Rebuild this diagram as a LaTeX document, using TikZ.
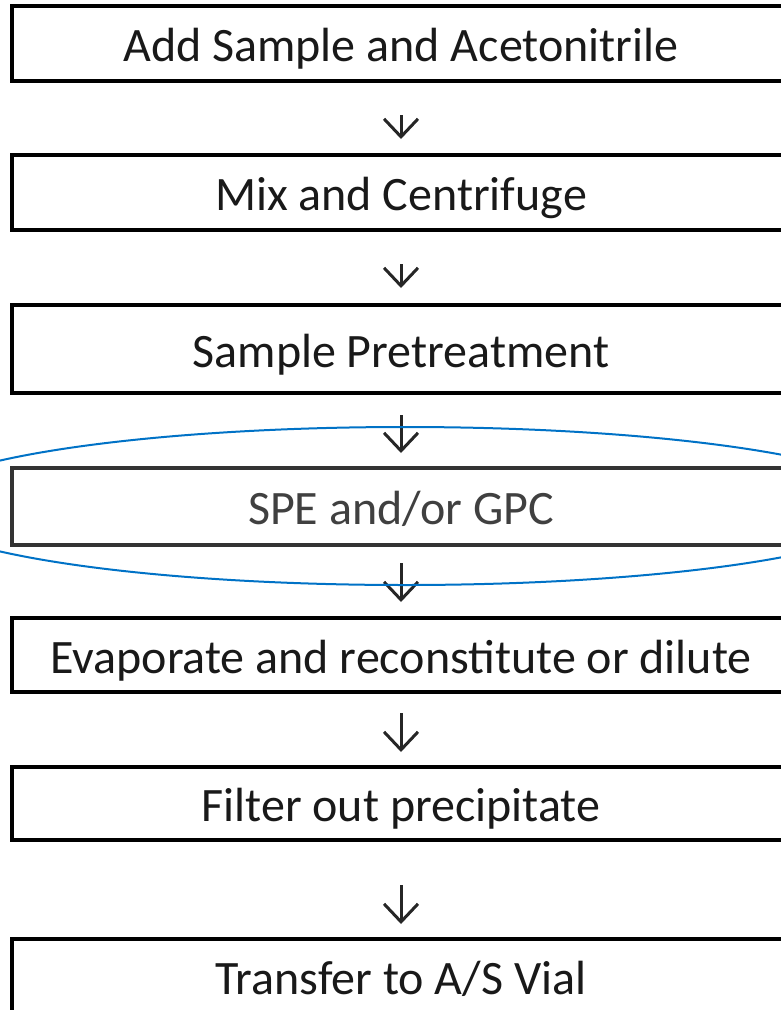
\documentclass[tikz,border=0pt]{standalone}
\usepackage{fontspec}
\setmainfont{Carlito}
\usetikzlibrary{arrows.meta,shapes.geometric}
\definecolor{ellblue}{RGB}{0,114,198}
\definecolor{txt}{RGB}{25,25,25}
\definecolor{fadetxt}{RGB}{64,64,64}
\tikzset{
  stepbox/.style={draw=black, line width=4pt, minimum width=778pt, inner sep=0pt,
    text=txt, font=\fontsize{48}{58}\selectfont, anchor=center,
    text height=36pt, text depth=0pt},
  flowarrow/.style={draw=black!85, line width=3pt,
    -{Straight Barb[length=18pt,width=34pt,line width=3pt]}},
}
\begin{document}
\begin{tikzpicture}[x=1pt,y=1pt]
\useasboundingbox (0,0) rectangle (781,-1010);
\begin{scope}
\clip (0,0) rectangle (781,-1010);
\node[stepbox, minimum height=75pt] (b1) at (401,-43.5) {Add Sample and Acetonitrile};
\node[stepbox, minimum height=75pt] (b2) at (401,-192.5) {Mix and Centrifuge};
\node[stepbox, minimum height=88pt] (b3) at (401,-349) {Sample Pretreatment};
\node[stepbox, minimum height=77pt, draw=black!80, text=fadetxt] (b4) at (401,-506.5) {SPE and/or GPC};
\node[stepbox, minimum height=74pt] (b5) at (401,-655) {Evaporate and reconstitute or dilute};
\node[stepbox, minimum height=73pt] (b6) at (401,-803.5) {Filter out precipitate};
\node[stepbox, minimum height=74pt] (b7) at (401,-976) {Transfer to A/S Vial};
\draw[flowarrow, shorten <=32pt, shorten >=14pt] (b1.south) -- (b2.north);
\draw[flowarrow, shorten <=32pt, shorten >=15pt] (b2.south) -- (b3.north);
\draw[flowarrow, shorten <=20pt, shorten >=13pt] (b3.south) -- (b4.north);
\draw[flowarrow, shorten <=16pt, shorten >=14pt] (b4.south) -- (b5.north);
\draw[flowarrow, shorten <=19pt, shorten >=13pt] (b5.south) -- (b6.north);
\draw[flowarrow, shorten <=43pt, shorten >=13pt] (b6.south) -- (b7.north);
\node[draw=ellblue, line width=2pt, ellipse, minimum width=990pt, minimum height=158pt, inner sep=0pt] (ell) at (405,-506) {};
\end{scope}
\end{tikzpicture}
\end{document}
